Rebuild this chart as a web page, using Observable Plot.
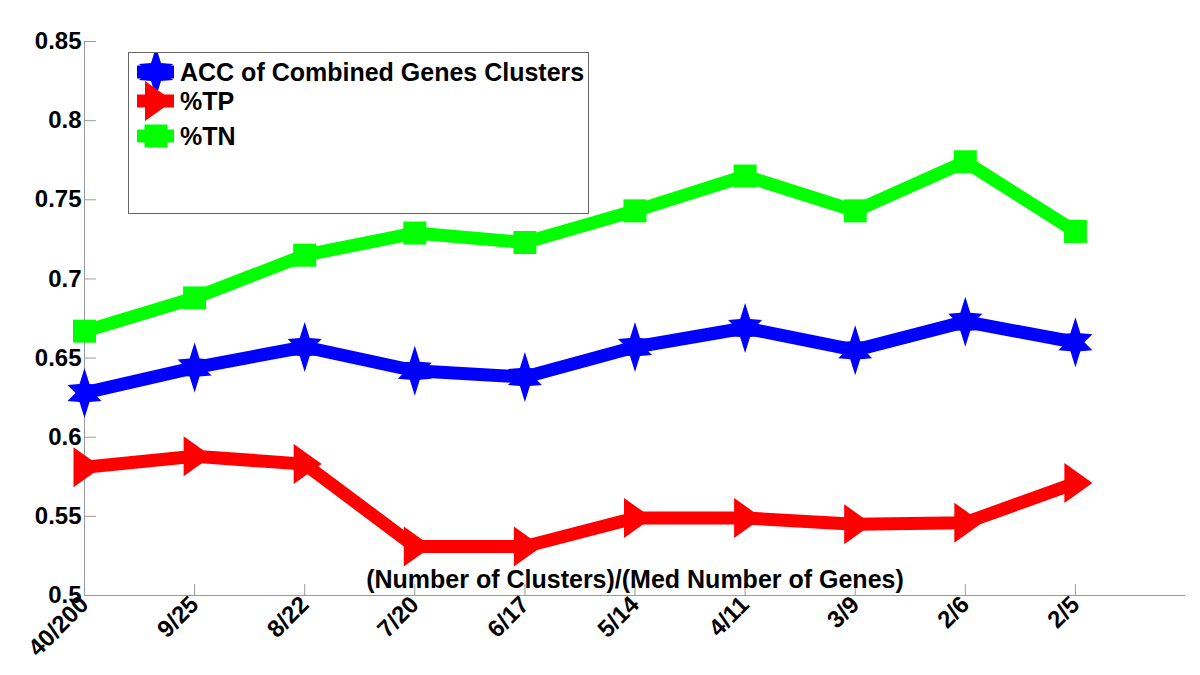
<!DOCTYPE html>
<html><head><meta charset="utf-8">
<script src="https://cdn.jsdelivr.net/npm/d3@7"></script>
<script src="https://cdn.jsdelivr.net/npm/@observablehq/plot@0.6"></script>
<style>
body{margin:0;background:#fff;}
#wrap{position:relative;width:1200px;height:675px;font-family:"Liberation Sans",Arial,sans-serif;}
#legend{position:absolute;left:128px;top:52px;width:459px;height:160px;border:1px solid #666;background:#fff;}
</style></head><body><div id="wrap"></div>
<script>
// ---- data ----
const categories = ["40/200","9/25","8/22","7/20","6/17","5/14","4/11","3/9","2/6","2/5"];
const accValues = [0.628,0.644,0.657,0.642,0.638,0.657,0.669,0.655,0.673,0.660];
const tpValues  = [0.581,0.588,0.583,0.531,0.531,0.549,0.549,0.545,0.546,0.571];
const tnValues  = [0.667,0.688,0.715,0.729,0.723,0.743,0.765,0.743,0.774,0.730];
const yTicks = [0.5,0.55,0.6,0.65,0.7,0.75,0.8,0.85];
const seriesNames = ["ACC of Combined Genes Clusters","%TP","%TN"];
const seriesColors = ["#0000ff","#ff0000","#00ff00"];
const xLabel = "(Number of Clusters)/(Med Number of Genes)";

// ---- marker shapes ----
const starPts = [[0,-25],[5,-9],[17,-8],[9,0],[17,8],[5,9],[0,25],[-5,9],[-17,8],[-9,0],[-17,-8],[-5,-9]];
const triPts = [[-11,-20],[17,0],[-11,20]];
const sqPts = [[-11.5,-11.5],[11.5,-11.5],[11.5,11.5],[-11.5,11.5]];
const shapeOf = pts => ({draw(ctx){ctx.moveTo(pts[0][0],pts[0][1]);for(let i=1;i<pts.length;i++)ctx.lineTo(pts[i][0],pts[i][1]);ctx.closePath();}});
const shapes = [shapeOf(starPts), shapeOf(triPts), shapeOf(sqPts)];
const shapePts = [starPts, triPts, sqPts];
const tickShape = {draw(ctx, l){ctx.moveTo(0,0); ctx.lineTo(0,-l);}};

const allSeries = [accValues, tpValues, tnValues];
const rows = [];
allSeries.forEach((vals, s) => vals.forEach((v, i) => rows.push({series: s, x: i + 1, y: v})));
const xIdx = categories.map((c, i) => i + 1);

const font = '"Liberation Sans", Arial, sans-serif';
const axisColor = "#999";

const marks = [
  Plot.ruleY([yTicks[0]], {stroke: axisColor, strokeWidth: 1}),
  Plot.ruleX([1], {stroke: axisColor, strokeWidth: 1}),
  Plot.vector(yTicks, {y: d => d, frameAnchor: "left", rotate: 90, length: 11, anchor: "start", shape: tickShape, stroke: axisColor, strokeWidth: 1}),
  Plot.vector(xIdx, {x: d => d, frameAnchor: "bottom", rotate: 0, length: 11, anchor: "start", shape: tickShape, stroke: axisColor, strokeWidth: 1}),
  Plot.axisY(yTicks, {tickSize: 0, tickPadding: 3, tickFormat: d => String(d), fontSize: 24, fontWeight: "bold", fill: "#000", label: null}),
  Plot.axisX(xIdx, {tickSize: 0, tickPadding: 5, tickRotate: -45, tickFormat: i => categories[i - 1], fontSize: 24, fontWeight: "bold", fill: "#000", label: null}),
  Plot.text([xLabel], {text: d => d, frameAnchor: "bottom", dy: -8, textAnchor: "middle", lineAnchor: "bottom", fontSize: 25, fontWeight: "bold", fill: "#000"})
];
[2, 0, 1].forEach(s => {
  const d = rows.filter(r => r.series === s);
  marks.push(Plot.line(d, {x: "x", y: "y", stroke: seriesColors[s], strokeWidth: 13, strokeLinejoin: "miter"}));
  marks.push(Plot.dot(d, {x: "x", y: "y", symbol: () => shapes[s], fill: seriesColors[s], stroke: "none", r: 10}));
});

const chart = Plot.plot({
  width: 1200, height: 675,
  marginLeft: 84, marginRight: 15, marginTop: 41, marginBottom: 80,
  style: {fontFamily: font, background: "#fff", overflow: "visible"},
  x: {type: "linear", domain: [1, 11], axis: null},
  y: {domain: [0.5, 0.85], axis: null},
  symbol: {type: "identity"},
  marks
});
document.getElementById("wrap").appendChild(chart);

// ---- legend ----
const lg = d3.select("#wrap").append("div").attr("id", "legend");
const lsvg = lg.append("svg").attr("width", 459).attr("height", 160).style("display", "block");
const rowY = [19, 48, 83];
seriesNames.forEach((name, s) => {
  const g = lsvg.append("g").attr("transform", `translate(27,${rowY[s]})`);
  g.append("line").attr("x1", -19).attr("x2", 18).attr("y1", 0).attr("y2", 0).attr("stroke", seriesColors[s]).attr("stroke-width", 13);
  g.append("path").attr("d", "M" + shapePts[s].map(p => p.join(",")).join("L") + "Z").attr("fill", seriesColors[s]);
  lsvg.append("text").attr("x", 51).attr("y", rowY[s] + 9).text(name)
    .attr("font-family", font).attr("font-weight", "bold").attr("font-size", 25).attr("fill", "#000");
});
</script></body></html>
